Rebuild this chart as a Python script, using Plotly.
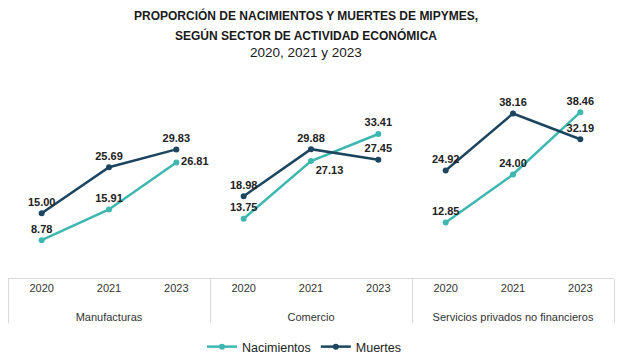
import plotly.graph_objects as go

sectors = ["Manufacturas", "Comercio", "Servicios privados no financieros"]
years = ["2020", "2021", "2023"]
nacimientos = {
    "Manufacturas": [8.78, 15.91, 26.81],
    "Comercio": [13.75, 27.13, 33.41],
    "Servicios privados no financieros": [12.85, 24.00, 38.46],
}
muertes = {
    "Manufacturas": [15.00, 25.69, 29.83],
    "Comercio": [18.98, 29.88, 27.45],
    "Servicios privados no financieros": [24.92, 38.16, 32.19],
}
nac_pos = {
    "Manufacturas": ["top center", "top center", "middle right"],
    "Comercio": ["top center", "bottom right", "top center"],
    "Servicios privados no financieros": ["top center", "top center", "top center"],
}
mue_pos = {
    "Manufacturas": ["top center", "top center", "top center"],
    "Comercio": ["top center", "top center", "top center"],
    "Servicios privados no financieros": ["top center", "top center", "top center"],
}

C_NAC = "#3DB7AF"
C_MUE = "#1C4560"
FONT = "Liberation Sans, Arial, sans-serif"

W, H = 620, 359
ML, MR, MT, MB = 8, 6, 84, 81

fig = go.Figure()
for i, s in enumerate(sectors):
    # leading line break pushes the sector label down, like the reference
    xs = [["<br>" + s] * len(years), years]
    fig.add_trace(go.Scatter(
        x=xs, y=nacimientos[s], mode="lines+markers+text", name="Nacimientos",
        legendgroup="nac", showlegend=(i == 0),
        line=dict(color=C_NAC, width=2.5), marker=dict(color=C_NAC, size=6),
        texttemplate="%{y:.2f}", textposition=nac_pos[s],
        textfont=dict(family=FONT, size=11, color="#222222", weight="bold"),
        cliponaxis=False,
    ))
    fig.add_trace(go.Scatter(
        x=xs, y=muertes[s], mode="lines+markers+text", name="Muertes",
        legendgroup="mue", showlegend=(i == 0),
        line=dict(color=C_MUE, width=2.5), marker=dict(color=C_MUE, size=6),
        texttemplate="%{y:.2f}", textposition=mue_pos[s],
        textfont=dict(family=FONT, size=11, color="#222222", weight="bold"),
        cliponaxis=False,
    ))

ph = H - MT - MB
def py(pix):
    return (H - MB - pix) / ph

pw = W - ML - MR
def px(pix):
    return (pix - ML) / pw

titles = [
    ("<b>PROPORCIÓN DE NACIMIENTOS Y MUERTES DE MIPYMES,</b>", 16, 12),
    ("<b>SEGÚN SECTOR DE ACTIVIDAD ECONÓMICA</b>", 35, 12),
    ("2020, 2021 y 2023", 53, 13.5),
]
for t, yy, sz in titles:
    fig.add_annotation(text=t, xref="paper", yref="paper", x=px(306), y=py(yy),
                       xanchor="center", yanchor="middle", showarrow=False,
                       font=dict(family=FONT, size=sz, color="#1a1a1a"))

fig.update_layout(
    width=W, height=H,
    margin=dict(l=ML, r=MR, t=MT, b=MB, autoexpand=False),
    paper_bgcolor="white", plot_bgcolor="white",
    font=dict(family=FONT, color="#333333"),
    showlegend=True,
    legend=dict(orientation="h", x=px(304), xanchor="center", y=py(347), yanchor="middle",
                font=dict(family=FONT, size=12.5, color="#222222"), itemwidth=30,
                traceorder="normal"),
    xaxis=dict(type="multicategory", range=[-0.5, 8.5], showline=True, linecolor="#d9d9d9",
               linewidth=1, showdividers=True, dividercolor="#d9d9d9", dividerwidth=1,
               automargin=False,
               ticks="", showgrid=False, tickfont=dict(family=FONT, size=11, color="#333333")),
    yaxis=dict(range=[0, 45], visible=False, showgrid=False, zeroline=False, automargin=False),
)

fig.write_html("out.html", config={"displayModeBar": False},
               post_script="document.body.style.margin='0px';")
